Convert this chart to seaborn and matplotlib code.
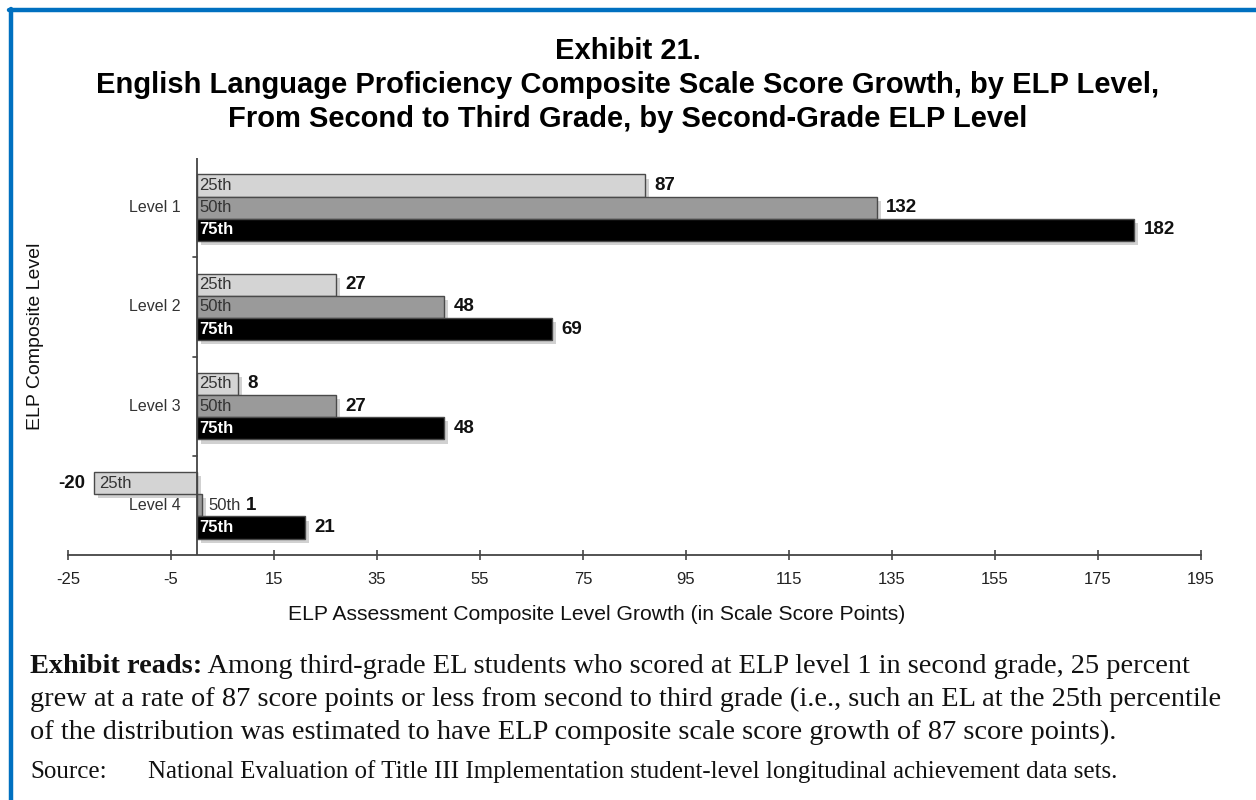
import pandas as pd
import seaborn as sns
import matplotlib.pyplot as plt
import matplotlib.patheffects as pe
from matplotlib.lines import Line2D

# datos
niveles = ['Level 1', 'Level 2', 'Level 3', 'Level 4']
percentiles = ['25th', '50th', '75th']
p25 = [87, 27, 8, -20]
p50 = [132, 48, 27, 1]
p75 = [182, 69, 48, 21]
xticks = list(range(-25, 196, 20))

df = pd.DataFrame({
    'nivel': niveles * 3,
    'pct': ['25th'] * 4 + ['50th'] * 4 + ['75th'] * 4,
    'valor': p25 + p50 + p75,
})

sns.set_theme(style='white')
plt.rcParams['font.family'] = ['Liberation Sans', 'DejaVu Sans']
serif = ['Liberation Serif', 'DejaVu Serif']

W, H = 1256, 800
fig = plt.figure(figsize=(W / 100, H / 100), dpi=100)
ax = fig.add_axes([68 / W, 1 - 555 / H, (1201 - 68) / W, (555 - 158) / H])

colores = ['#d4d4d4', '#9a9a9a', '#000000']
sns.barplot(data=df, x='valor', y='nivel', hue='pct', orient='h', order=niveles,
            hue_order=percentiles, palette=colores, width=0.67, edgecolor='#4a4a4a',
            linewidth=1, saturation=1, legend=False, ax=ax)

# sombra suave debajo de las barras
sombra = [pe.SimplePatchShadow(offset=(3, -3), shadow_rgbFace='#9a9a9a', alpha=0.45), pe.Normal()]
for p in ax.patches:
    p.set_path_effects(sombra)

ax.set_xlim(-25, 195)
ax.set_ylim(3.5, -0.5)
ax.set_xticks(xticks)
ax.set_xticklabels([str(t) for t in xticks], fontsize=12, color='#222222')
ax.tick_params(axis='x', direction='inout', length=7, width=1.2, color='#444444', pad=9, bottom=True)
ax.set_yticks([])
ax.set_xlabel('')
ax.set_ylabel('')
for s in ['top', 'right', 'left']:
    ax.spines[s].set_visible(False)
ax.spines['bottom'].set_color('#444444')
ax.spines['bottom'].set_linewidth(1.3)
ax.axvline(0, color='#444444', lw=1.3, zorder=5)
for b in [0.5, 1.5, 2.5]:
    ax.plot([-0.8, 0], [b, b], color='#444444', lw=1.2, clip_on=False)

for i, nivel in enumerate(niveles):
    ax.text(-3.2, i, nivel, ha='right', va='center', fontsize=11.5, color='#333333')

# etiquetas de las barras
for cont, pct in zip(ax.containers, percentiles):
    for bar in cont:
        v = bar.get_x() if bar.get_x() < 0 else bar.get_width()
        yc = bar.get_y() + bar.get_height() / 2
        col = 'white' if pct == '75th' else '#333333'
        wt = 'bold' if pct == '75th' else 'normal'
        if v < 0:
            ax.annotate(pct, (v, yc), xytext=(4, 0), textcoords='offset points',
                        ha='left', va='center', fontsize=12, color=col, fontweight=wt)
            ax.annotate(f'{v:.0f}', (v, yc), xytext=(-6, 0), textcoords='offset points',
                        ha='right', va='center', fontsize=13.5, fontweight='bold', color='#111111')
        elif v < 5:
            t = ax.annotate(pct, (v, yc), xytext=(5, 0), textcoords='offset points',
                            ha='left', va='center', fontsize=12, color=col, fontweight=wt)
            ax.annotate(f'{v:.0f}', xy=(1, 0.5), xycoords=t, xytext=(3, 0),
                        textcoords='offset points', ha='left', va='center',
                        fontsize=13.5, fontweight='bold', color='#111111')
        else:
            ax.annotate(pct, (0, yc), xytext=(2, 0), textcoords='offset points',
                        ha='left', va='center', fontsize=12, color=col, fontweight=wt)
            ax.annotate(f'{v:.0f}', (v, yc), xytext=(7, 0), textcoords='offset points',
                        ha='left', va='center', fontsize=13.5, fontweight='bold', color='#111111')

# titulos de ejes
fig.text(597 / W, 1 - 614 / H, 'ELP Assessment Composite Level Growth (in Scale Score Points)',
         ha='center', va='center', fontsize=15.2, color='#111111')
fig.text(36 / W, 1 - 336 / H, 'ELP Composite Level', ha='center', va='center',
         rotation=90, fontsize=14, color='#111111')

# titulo
titulo = ['Exhibit 21.',
          'English Language Proficiency Composite Scale Score Growth, by ELP Level,',
          'From Second to Third Grade, by Second-Grade ELP Level']
for k, linea in enumerate(titulo):
    fig.text(0.5, 1 - (59 + 34 * k) / H, linea, ha='center', va='baseline',
             fontsize=21, fontweight='bold', color='#000000')

# texto de pie
t1 = fig.text(30 / W, 1 - 673 / H, 'Exhibit reads:', ha='left', va='baseline',
              fontsize=20.4, fontweight='bold', family=serif, color='#111111')
ax.annotate(' Among third-grade EL students who scored at ELP level 1 in second grade, 25 percent',
            xy=(1, 0), xycoords=t1, ha='left', va='bottom', fontsize=20.4,
            family=serif, color='#111111', annotation_clip=False)
lineas = ['grew at a rate of 87 score points or less from second to third grade (i.e., such an EL at the 25th percentile',
          'of the distribution was estimated to have ELP composite scale score growth of 87 score points).']
for k, linea in enumerate(lineas):
    fig.text(30 / W, 1 - (706 + 33 * k) / H, linea, ha='left', va='baseline',
             fontsize=20.4, family=serif, color='#111111')
fig.text(30 / W, 1 - 778 / H, 'Source:', ha='left', va='baseline', fontsize=18,
         family=serif, color='#111111')
fig.text(148 / W, 1 - 778 / H,
         'National Evaluation of Title III Implementation student-level longitudinal achievement data sets.',
         ha='left', va='baseline', fontsize=18, family=serif, color='#111111')

# borde azul
azul = '#0070c0'
fig.add_artist(Line2D([9 / W, 1], [1 - 10 / H, 1 - 10 / H], color=azul, lw=3.2))
fig.add_artist(Line2D([11 / W, 11 / W], [0, 1 - 8.5 / H], color=azul, lw=3.2))

fig.savefig('out.png', dpi=100, facecolor='white')
